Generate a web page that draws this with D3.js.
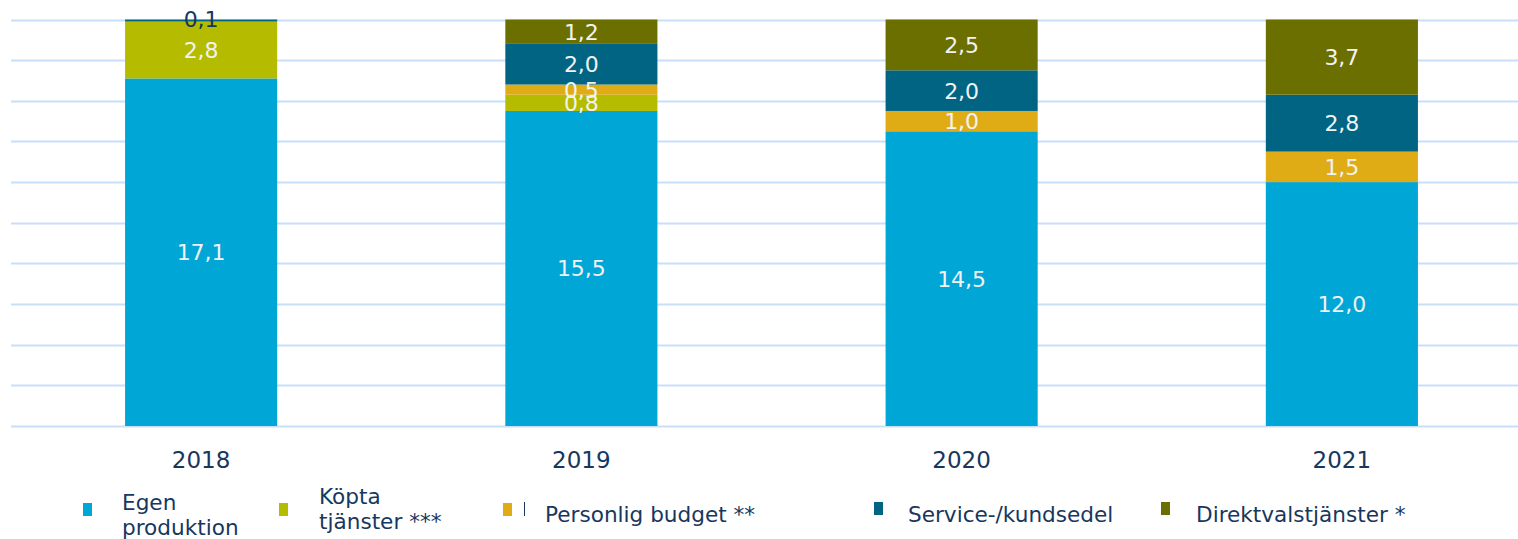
<!DOCTYPE html>
<html>
<head>
<meta charset="utf-8">
<script src="https://cdn.jsdelivr.net/npm/d3@7"></script>
<style>
  html, body { margin: 0; padding: 0; background: #fff; }
  svg { display: block; font-family: "DejaVu Sans", Verdana, sans-serif; }
</style>
</head>
<body>
<div id="chart"></div>
<script>
// Years on the x axis
const years = ['2018', '2019', '2020', '2021'];

// Series, bottom to top of each stack
const seriesNames = ['Egen produktion', 'Köpta tjänster ***', 'Personlig budget **', 'Service-/kundsedel', 'Direktvalstjänster *'];
const seriesColors = ['#00a6d6', '#b5bc00', '#e0ac16', '#006482', '#6b6f00'];

const egenProduktion   = [17.1, 15.5, 14.5, 12.0];
const kopptaTjanster   = [2.8, 0.8, 0, 0];
const personligBudget  = [0, 0.5, 1.0, 1.5];
const serviceKundsedel = [0.1, 2.0, 2.0, 2.8];
const direktval        = [0, 1.2, 2.5, 3.7];

const yTicks = [0, 2, 4, 6, 8, 10, 12, 14, 16, 18, 20];

const W = 1518, H = 539;
const svg = d3.select('#chart').append('svg').attr('width', W).attr('height', H);

const rows = years.map((yr, i) => ({
  year: yr,
  s0: egenProduktion[i], s1: kopptaTjanster[i], s2: personligBudget[i],
  s3: serviceKundsedel[i], s4: direktval[i]
}));
const keys = ['s0', 's1', 's2', 's3', 's4'];
const stacked = d3.stack().keys(keys)(rows);

const x = d3.scaleBand().domain(years).range([11, 1532]).paddingInner(0.6).paddingOuter(0.3);
const y = d3.scaleLinear().domain([0, 20]).range([426, 19.5]);

// gridlines
svg.append('g').selectAll('line').data(yTicks).join('line')
  .attr('x1', 11).attr('x2', W)
  .attr('y1', d => Math.round(y(d)) + 0.5).attr('y2', d => Math.round(y(d)) + 0.5)
  .attr('stroke', '#c8dff9').attr('stroke-width', 2);

// bars
const layers = svg.append('g').selectAll('g').data(stacked).join('g')
  .attr('fill', (d, i) => seriesColors[i]);

layers.selectAll('rect').data(d => d.filter(p => p[1] - p[0] > 0)).join('rect')
  .attr('x', d => x(d.data.year))
  .attr('width', x.bandwidth())
  .attr('y', d => y(d[1]))
  .attr('height', d => y(d[0]) - y(d[1]));

// value labels
const fmt = v => v.toFixed(1).replace('.', ',');
const labels = svg.append('g').attr('font-size', 22).attr('text-anchor', 'middle');
stacked.forEach((layer, li) => {
  layer.forEach(p => {
    const v = p[1] - p[0];
    if (v <= 0) return;
    const small = v < 0.3;
    labels.append('text')
      .attr('x', x(p.data.year) + x.bandwidth() / 2)
      .attr('y', small ? y(p[1]) : (y(p[0]) + y(p[1])) / 2)
      .attr('dy', '0.36em')
      .attr('fill', small ? '#17375e' : '#f2f2f2')
      .text(fmt(+v.toFixed(1)));
  });
});

// x axis labels
svg.append('g').selectAll('text').data(years).join('text')
  .attr('x', d => x(d) + x.bandwidth() / 2)
  .attr('y', 468)
  .attr('text-anchor', 'middle')
  .attr('font-size', 23)
  .attr('fill', '#17375e')
  .text(d => d);

// legend
const legendX = [83, 279, 503, 874, 1161];
const legendLines = [['Egen', 'produktion'], ['Köpta', 'tjänster ***'], ['Personlig budget **'], ['Service-/kundsedel'], ['Direktvalstjänster *']];
const legendTextX = [122, 319, 545, 908, 1196];
const leg = svg.append('g').attr('font-size', 21.6).attr('fill', '#17375e');
seriesNames.forEach((name, i) => {
  leg.append('rect')
    .attr('x', legendX[i]).attr('y', i >= 3 ? 502 : 503)
    .attr('width', 9).attr('height', 13)
    .attr('fill', seriesColors[i]);
  const lines = legendLines[i];
  const baseY = lines.length === 2 ? (i === 0 ? 510 : 504) : 522;
  lines.forEach((t, j) => {
    leg.append('text')
      .attr('x', legendTextX[i])
      .attr('y', baseY + j * 24.5)
      .text(t);
  });
});
leg.append('line')
  .attr('x1', 524.5).attr('x2', 524.5).attr('y1', 502).attr('y2', 516)
  .attr('stroke', '#17375e').attr('stroke-width', 1);
</script>
</body>
</html>
